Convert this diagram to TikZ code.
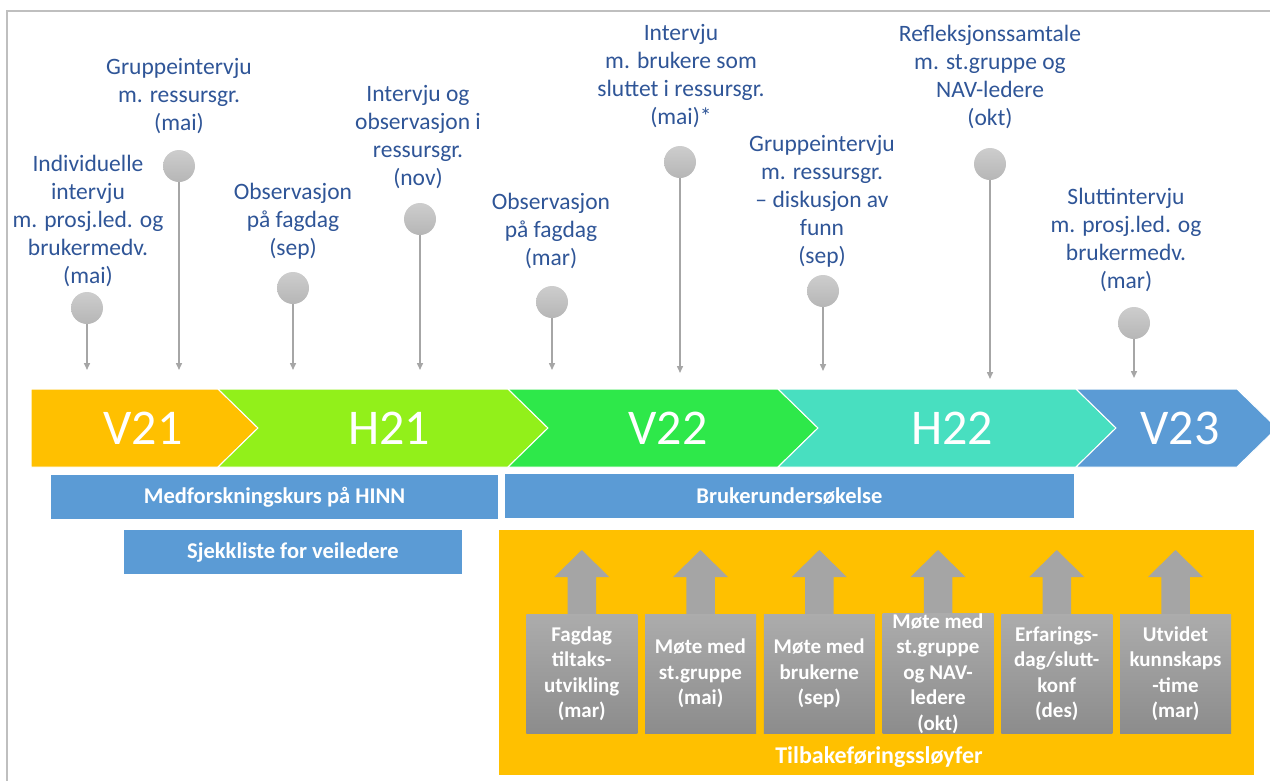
\documentclass[tikz,border=0pt]{standalone}
\usepackage{fontspec}
\setmainfont{Carlito}
\usetikzlibrary{arrows.meta}

\definecolor{lbltext}{RGB}{47,85,151}
\definecolor{pinline}{RGB}{166,166,166}
\definecolor{balltop}{RGB}{205,205,205}
\definecolor{ballbot}{RGB}{182,182,182}
\definecolor{semV21}{RGB}{255,192,0}
\definecolor{semH21}{RGB}{146,240,26}
\definecolor{semV22}{RGB}{46,232,74}
\definecolor{semH22}{RGB}{72,223,192}
\definecolor{semV23}{RGB}{91,155,213}
\definecolor{barblue}{RGB}{91,155,213}
\definecolor{loopbg}{RGB}{255,192,0}
\definecolor{feedtop}{RGB}{172,172,172}
\definecolor{feedbot}{RGB}{140,140,140}
\definecolor{feedarrow}{RGB}{165,165,165}
\definecolor{framegray}{RGB}{191,191,191}

\begin{document}
\begin{tikzpicture}[x=1pt, y=-1pt,
    lbl/.style={text=lbltext, align=center, inner sep=0pt, font=\fontsize{23.5}{28}\selectfont},
    ball/.style={circle, top color=balltop, bottom color=ballbot, minimum size=32pt, inner sep=0pt},
    pin/.style={draw=pinline, line width=1.5pt, -{Triangle[width=6pt,length=7pt]}},
    chevlbl/.style={text=white, inner sep=0pt, font=\fontsize{50}{60}\selectfont},
    bar/.style={fill=barblue, minimum height=44pt, inner sep=0pt, text=white, font=\bfseries\fontsize{22.5}{26}\selectfont},
    feed/.style={top color=feedtop, bottom color=feedbot, minimum width=111pt, minimum height=119pt,
                 inner sep=0pt, text=white, align=center, font=\bfseries\fontsize{21}{25.5}\selectfont}]
  \useasboundingbox (0,0) rectangle (1270,780);
  \clip (0,0) rectangle (1270,780);
  \draw[framegray, line width=2pt] (7,800) -- (7,11) -- (1290,11);

  % semesters along the time line
  \filldraw[fill=semV21, draw=white, line width=1pt] (31,389) -- (218,389) -- (258,428) -- (218,467) -- (31,467) -- cycle;
  \foreach \a/\b/\c in {218/508/semH21, 508/778/semV22, 778/1076/semH22, 1076/1237/semV23}
    \filldraw[fill=\c, draw=white, line width=1pt] (\a,389) -- (\b,389) -- (\b+40,428) -- (\b,467) -- (\a,467) -- (\a+40,428) -- cycle;
  \node[chevlbl] (v21) at (143,428) {V21};
  \node[chevlbl] (h21) at (389,428) {H21};
  \node[chevlbl] (v22) at (668,428) {V22};
  \node[chevlbl] (h22) at (952,428) {H22};
  \node[chevlbl] (v23) at (1180,428) {V23};

  % pins: number/x/ball y/tip y
  \foreach \i/\x/\y/\t in {1/87/308/370, 2/179/166/370, 3/293/288/370, 4/420/219/370, 5/552/302/370,
                           6/680/162/373, 7/823/291/371, 8/990/164/379, 9/1134/323/378} {
    \node[ball] (b\i) at (\x,\y) {};
    \coordinate (t\i) at (\x,\t);
    \draw[pin] (b\i) -- (t\i);
  }
  \node[lbl] (l1) at (88,221) {Individuelle\\intervju\\m. prosj.led. og\\brukermedv.\\(mai)};
  \node[lbl] (l2) at (179,96.5) {Gruppeintervju\\m. ressursgr.\\(mai)};
  \node[lbl] (l3) at (293,221.5) {Observasjon\\på fagdag\\(sep)};
  \node[lbl] (l4) at (418,137.5) {Intervju og\\observasjon i\\ressursgr.\\(nov)};
  \node[lbl] (l5) at (551,231) {Observasjon\\på fagdag\\(mar)};
  \node[lbl] (l6) at (681,76.5) {Intervju\\m. brukere som\\sluttet i ressursgr.\\(mai)*};
  \node[lbl] (l7) at (822,201) {Gruppeintervju\\m. ressursgr.\\– diskusjon av\\funn\\(sep)};
  \node[lbl] (l8) at (990,76.5) {Refleksjonssamtale\\m. st.gruppe og\\NAV-ledere\\(okt)};
  \node[lbl] (l9) at (1126,239.5) {Sluttintervju\\m. prosj.led. og\\brukermedv.\\(mar)};

  % bars under the time line
  \node[bar, minimum width=447pt] (kurs) at (274.5,497) {Medforskningskurs på HINN};
  \node[bar, minimum width=337.5pt] (sjekk) at (293,552) {Sjekkliste for veiledere};
  \node[bar, minimum width=569pt] (survey) at (789.5,496) {Brukerundersøkelse};

  % feedback loops
  \node[fill=loopbg, minimum width=755pt, minimum height=245pt, inner sep=0pt] (loops) at (876.5,652.5) {};
  \foreach \x in {581.75, 700.5, 819.25, 938, 1056.75, 1175.5}
    \fill[feedarrow] (\x-14.25,616) -- (\x-14.25,577) -- (\x-27.5,577) -- (\x,550)
                     -- (\x+27.5,577) -- (\x+14.25,577) -- (\x+14.25,616) -- cycle;
  \node[feed] (f1) at (581.75,673.5) {Fagdag\\tiltaks-\\utvikling\\(mar)};
  \node[feed] (f2) at (700.5,673.5) {Møte med\\st.gruppe\\(mai)};
  \node[feed] (f3) at (819.25,673.5) {Møte med\\brukerne\\(sep)};
  \node[feed] (f4) at (938,673.5) {Møte med\\st.gruppe\\og NAV-\\ledere\\(okt)};
  \node[feed] (f5) at (1056.75,673.5) {Erfarings-\\dag/slutt-\\konf\\(des)};
  \node[feed] (f6) at (1175.5,673.5) {Utvidet\\kunnskaps\\-time\\(mar)};
  \node[text=white, inner sep=0pt, font=\bfseries\fontsize{24}{28}\selectfont] (loopslbl) at (879,757) {Tilbakeføringssløyfer};
\end{tikzpicture}
\end{document}
